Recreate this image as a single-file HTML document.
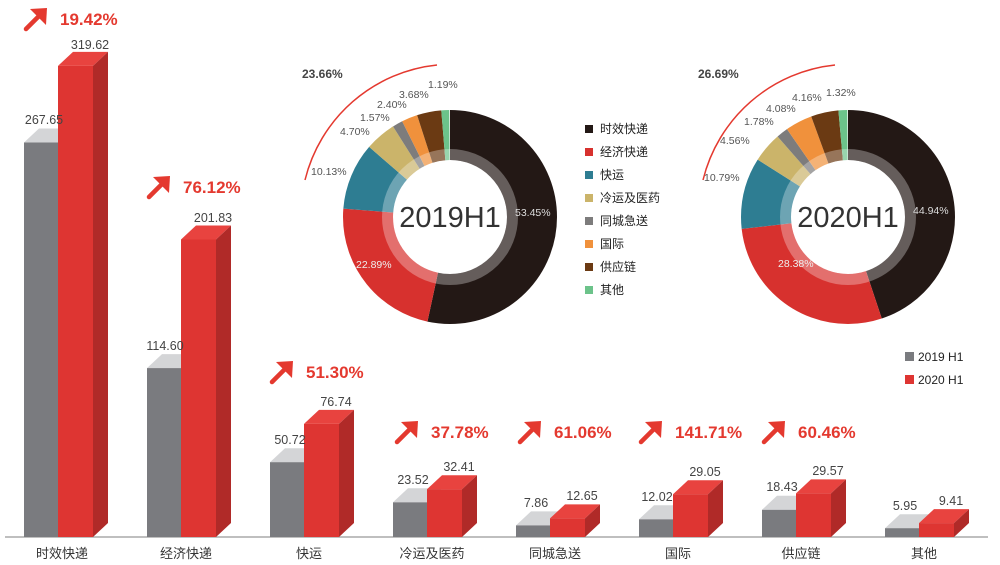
<!DOCTYPE html>
<html><head><meta charset="utf-8"><style>
body{margin:0;background:#fff}
svg{display:block;font-family:"Liberation Sans","Noto Sans CJK SC",sans-serif}
.v{font-size:12.5px;fill:#444;text-anchor:middle}
.c{font-size:13px;fill:#333;text-anchor:middle}
.g{font-size:17px;font-weight:bold;fill:#e4392f}
.p{font-size:10.5px;fill:#555}
.l{font-size:12px;fill:#222}
</style></head><body>
<svg width="1000" height="565" viewBox="0 0 1000 565">
<defs>
<g id="ar"><path d="M1 21 L15 7" stroke="#e4392f" stroke-width="4.5" stroke-linecap="round"/><polygon points="5,1 22,0 21,17" fill="#e4392f"/></g>
</defs>
<line x1="5" y1="537" x2="988" y2="537" stroke="#aaa" stroke-width="1.5"/>
<g id="bars">
<polygon points="24,142.5 39,128.5 73,128.5 58,142.5" fill="#d4d5d7"/><rect x="24" y="142.5" width="34" height="394.5" fill="#7a7b7f"/>
<polygon points="58,65.9 73,51.9 108,51.9 93,65.9" fill="#e8433f"/><rect x="58" y="65.9" width="35" height="471.1" fill="#de3532"/><polygon points="93,65.9 108,51.9 108,523 93,537" fill="#b02a28"/>
<polygon points="147,368.1 162,354.1 196,354.1 181,368.1" fill="#d4d5d7"/><rect x="147" y="368.1" width="34" height="168.9" fill="#7a7b7f"/>
<polygon points="181,239.5 196,225.5 231,225.5 216,239.5" fill="#e8433f"/><rect x="181" y="239.5" width="35" height="297.5" fill="#de3532"/><polygon points="216,239.5 231,225.5 231,523 216,537" fill="#b02a28"/>
<polygon points="270,462.2 285,448.2 319,448.2 304,462.2" fill="#d4d5d7"/><rect x="270" y="462.2" width="34" height="74.8" fill="#7a7b7f"/>
<polygon points="304,423.9 319,409.9 354,409.9 339,423.9" fill="#e8433f"/><rect x="304" y="423.9" width="35" height="113.1" fill="#de3532"/><polygon points="339,423.9 354,409.9 354,523 339,537" fill="#b02a28"/>
<polygon points="393,502.3 408,488.3 442,488.3 427,502.3" fill="#d4d5d7"/><rect x="393" y="502.3" width="34" height="34.7" fill="#7a7b7f"/>
<polygon points="427,489.2 442,475.2 477,475.2 462,489.2" fill="#e8433f"/><rect x="427" y="489.2" width="35" height="47.8" fill="#de3532"/><polygon points="462,489.2 477,475.2 477,523 462,537" fill="#b02a28"/>
<polygon points="516,525.4 531,511.4 565,511.4 550,525.4" fill="#d4d5d7"/><rect x="516" y="525.4" width="34" height="11.6" fill="#7a7b7f"/>
<polygon points="550,518.4 565,504.4 600,504.4 585,518.4" fill="#e8433f"/><rect x="550" y="518.4" width="35" height="18.6" fill="#de3532"/><polygon points="585,518.4 600,504.4 600,523 585,537" fill="#b02a28"/>
<polygon points="639,519.3 654,505.3 688,505.3 673,519.3" fill="#d4d5d7"/><rect x="639" y="519.3" width="34" height="17.7" fill="#7a7b7f"/>
<polygon points="673,494.2 688,480.2 723,480.2 708,494.2" fill="#e8433f"/><rect x="673" y="494.2" width="35" height="42.8" fill="#de3532"/><polygon points="708,494.2 723,480.2 723,523 708,537" fill="#b02a28"/>
<polygon points="762,509.8 777,495.8 811,495.8 796,509.8" fill="#d4d5d7"/><rect x="762" y="509.8" width="34" height="27.2" fill="#7a7b7f"/>
<polygon points="796,493.4 811,479.4 846,479.4 831,493.4" fill="#e8433f"/><rect x="796" y="493.4" width="35" height="43.6" fill="#de3532"/><polygon points="831,493.4 846,479.4 846,523 831,537" fill="#b02a28"/>
<polygon points="885,528.2 900,514.2 934,514.2 919,528.2" fill="#d4d5d7"/><rect x="885" y="528.2" width="34" height="8.8" fill="#7a7b7f"/>
<polygon points="919,523.1 934,509.1 969,509.1 954,523.1" fill="#e8433f"/><rect x="919" y="523.1" width="35" height="13.9" fill="#de3532"/><polygon points="954,523.1 969,509.1 969,523 954,537" fill="#b02a28"/>
</g>
<text class="v" x="44" y="124">267.65</text><text class="v" x="90" y="49">319.62</text>
<text class="v" x="165" y="350">114.60</text><text class="v" x="213" y="222">201.83</text>
<text class="v" x="290" y="444">50.72</text><text class="v" x="336" y="406">76.74</text>
<text class="v" x="413" y="484">23.52</text><text class="v" x="459" y="471">32.41</text>
<text class="v" x="536" y="507">7.86</text><text class="v" x="582" y="500">12.65</text>
<text class="v" x="657" y="501">12.02</text><text class="v" x="705" y="476">29.05</text>
<text class="v" x="782" y="491">18.43</text><text class="v" x="828" y="475">29.57</text>
<text class="v" x="905" y="510">5.95</text><text class="v" x="951" y="505">9.41</text>
<g class="c">
<text x="62" y="558">时效快递</text><text x="186" y="558">经济快递</text><text x="309" y="558">快运</text><text x="432" y="558">冷运及医药</text>
<text x="555" y="558">同城急送</text><text x="678" y="558">国际</text><text x="801" y="558">供应链</text><text x="924" y="558">其他</text>
</g>
<use href="#ar" x="25" y="8"/><text class="g" x="60" y="25">19.42%</text>
<use href="#ar" x="148" y="176"/><text class="g" x="183" y="193">76.12%</text>
<use href="#ar" x="271" y="361"/><text class="g" x="306" y="378">51.30%</text>
<use href="#ar" x="396" y="421"/><text class="g" x="431" y="438">37.78%</text>
<use href="#ar" x="519" y="421"/><text class="g" x="554" y="438">61.06%</text>
<use href="#ar" x="640" y="421"/><text class="g" x="675" y="438">141.71%</text>
<use href="#ar" x="763" y="421"/><text class="g" x="798" y="438">60.46%</text>
<g transform="translate(450,217) rotate(-90)" fill="none" stroke-width="50">
<circle r="82" pathLength="100" stroke="#231815" stroke-dasharray="53.45 100" stroke-dashoffset="0"/>
<circle r="82" pathLength="100" stroke="#d7312e" stroke-dasharray="22.89 100" stroke-dashoffset="-53.45"/>
<circle r="82" pathLength="100" stroke="#2e7d92" stroke-dasharray="10.13 100" stroke-dashoffset="-76.34"/>
<circle r="82" pathLength="100" stroke="#cbb46a" stroke-dasharray="4.70 100" stroke-dashoffset="-86.47"/>
<circle r="82" pathLength="100" stroke="#7d7c7c" stroke-dasharray="1.57 100" stroke-dashoffset="-91.17"/>
<circle r="82" pathLength="100" stroke="#f0913c" stroke-dasharray="2.40 100" stroke-dashoffset="-92.74"/>
<circle r="82" pathLength="100" stroke="#6b3a13" stroke-dasharray="3.68 100" stroke-dashoffset="-95.14"/>
<circle r="82" pathLength="100" stroke="#6cc38a" stroke-dasharray="1.19 100" stroke-dashoffset="-98.82"/>
<circle r="62.5" stroke="#fff" stroke-opacity="0.3" stroke-width="11"/>
</g>
<text x="450" y="227" text-anchor="middle" font-size="29" fill="#333">2019H1</text>
<text class="p" x="515" y="216" style="fill:#ddd">53.45%</text>
<text class="p" x="356" y="268" style="fill:#eee">22.89%</text>
<path d="M437 65 A152 152 0 0 0 305 180" fill="none" stroke="#e4392f" stroke-width="1.5"/>
<text x="302" y="78" font-size="12" font-weight="bold" fill="#444">23.66%</text>
<text class="p" x="311" y="175">10.13%</text><text class="p" x="340" y="135">4.70%</text>
<text class="p" x="360" y="121">1.57%</text><text class="p" x="377" y="108">2.40%</text>
<text class="p" x="399" y="98">3.68%</text><text class="p" x="428" y="88">1.19%</text>
<g transform="translate(848,217) rotate(-90)" fill="none" stroke-width="50">
<circle r="82" pathLength="100" stroke="#231815" stroke-dasharray="44.94 100" stroke-dashoffset="0"/>
<circle r="82" pathLength="100" stroke="#d7312e" stroke-dasharray="28.38 100" stroke-dashoffset="-44.94"/>
<circle r="82" pathLength="100" stroke="#2e7d92" stroke-dasharray="10.79 100" stroke-dashoffset="-73.32"/>
<circle r="82" pathLength="100" stroke="#cbb46a" stroke-dasharray="4.56 100" stroke-dashoffset="-84.11"/>
<circle r="82" pathLength="100" stroke="#7d7c7c" stroke-dasharray="1.78 100" stroke-dashoffset="-88.67"/>
<circle r="82" pathLength="100" stroke="#f0913c" stroke-dasharray="4.08 100" stroke-dashoffset="-90.45"/>
<circle r="82" pathLength="100" stroke="#6b3a13" stroke-dasharray="4.16 100" stroke-dashoffset="-94.53"/>
<circle r="82" pathLength="100" stroke="#6cc38a" stroke-dasharray="1.32 100" stroke-dashoffset="-98.69"/>
<circle r="62.5" stroke="#fff" stroke-opacity="0.3" stroke-width="11"/>
</g>
<text x="848" y="227" text-anchor="middle" font-size="29" fill="#333">2020H1</text>
<text class="p" x="913" y="214" style="fill:#ddd">44.94%</text>
<text class="p" x="778" y="267" style="fill:#eee">28.38%</text>
<path d="M835 65 A152 152 0 0 0 703 180" fill="none" stroke="#e4392f" stroke-width="1.5"/>
<text x="698" y="78" font-size="12" font-weight="bold" fill="#444">26.69%</text>
<text class="p" x="704" y="181">10.79%</text><text class="p" x="720" y="144">4.56%</text>
<text class="p" x="744" y="125">1.78%</text><text class="p" x="766" y="112">4.08%</text>
<text class="p" x="792" y="101">4.16%</text><text class="p" x="826" y="96">1.32%</text>
<g>
<rect x="585" y="125" width="8" height="8" fill="#231815"/><text class="l" x="600" y="133">时效快递</text>
<rect x="585" y="148" width="8" height="8" fill="#d7312e"/><text class="l" x="600" y="156">经济快递</text>
<rect x="585" y="171" width="8" height="8" fill="#2e7d92"/><text class="l" x="600" y="179">快运</text>
<rect x="585" y="194" width="8" height="8" fill="#cbb46a"/><text class="l" x="600" y="202">冷运及医药</text>
<rect x="585" y="217" width="8" height="8" fill="#7d7c7c"/><text class="l" x="600" y="225">同城急送</text>
<rect x="585" y="240" width="8" height="8" fill="#f0913c"/><text class="l" x="600" y="248">国际</text>
<rect x="585" y="263" width="8" height="8" fill="#6b3a13"/><text class="l" x="600" y="271">供应链</text>
<rect x="585" y="286" width="8" height="8" fill="#6cc38a"/><text class="l" x="600" y="294">其他</text>
<rect x="905" y="352" width="9" height="9" fill="#7a7b7f"/><text class="l" x="918" y="361">2019 H1</text>
<rect x="905" y="375" width="9" height="9" fill="#de3532"/><text class="l" x="918" y="384">2020 H1</text>
</g>
</svg>
</body></html>
